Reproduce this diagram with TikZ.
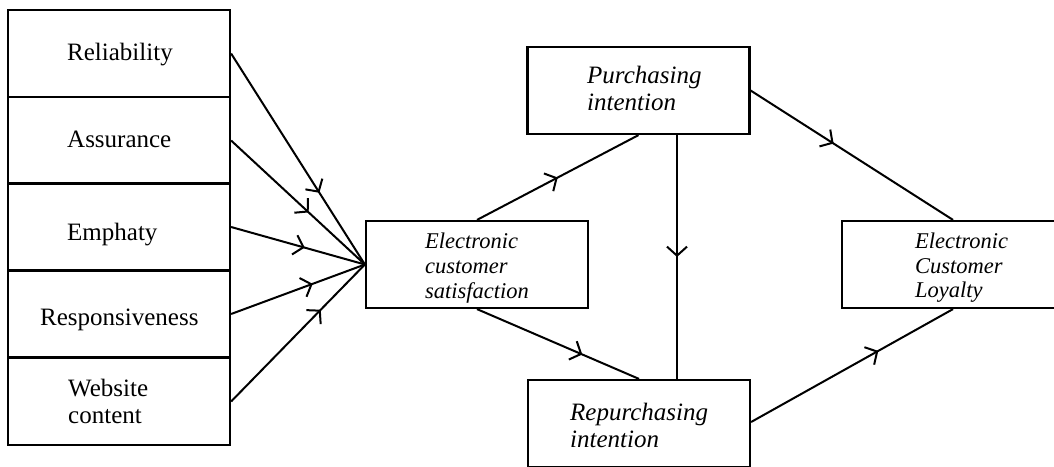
\documentclass[tikz,border=0pt]{standalone}
\usepackage{fontspec}
\setmainfont{Liberation Serif}
\usetikzlibrary{arrows.meta,decorations.markings,calc}
\tikzset{
  box/.style={draw, line width=2.2pt, minimum width=222pt, minimum height=87pt, inner sep=0pt},
  lbl/.style={inner sep=0pt, anchor=base west, font=\fontsize{25}{28}\selectfont},
  ilbl/.style={inner sep=0pt, anchor=base west, font=\fontsize{22.5}{25}\selectfont\itshape},
  bigilbl/.style={ilbl, font=\fontsize{25}{28}\selectfont\itshape},
  conn/.style={line width=2pt, postaction={decorate}, decoration={markings,
     mark=at position #1 with {\arrow{Straight Barb[length=9pt,width=20pt,line width=2pt]}}}}
}
\begin{document}
\begin{tikzpicture}[x=1pt,y=-1pt]
\useasboundingbox (0,0) rectangle (1054,466);
\clip (0,0) rectangle (1054,466);
% left column
\node[box] (rel) at (119,53.5) {};
\node[box] (ass) at (119,140.5) {};
\node[box] (emp) at (119,227) {};
\node[box] (res) at (119,314) {};
\node[box] (web) at (119,401.5) {};
\node[lbl] (trel) at (67,60) {Reliability};
\node[lbl] (tass) at (67,147) {Assurance};
\node[lbl] (temp) at (67,240) {Emphaty};
\node[lbl] (tres) at (40,325) {Responsiveness};
\node[lbl] (tweb1) at (68,396) {Website};
\node[lbl] (tweb2) at (68,423) {content};
% other boxes
\node[box] (ecs) at (477,264.5) {};
\node[box] (pur) at (638.5,90.5) {};
\node[box] (rep) at (639,423.5) {};
\node[box] (ecl) at (953,264.5) {};
\node[ilbl] (tecs1) at (425,248) {Electronic};
\node[ilbl] (tecs2) at (425,273) {customer};
\node[ilbl] (tecs3) at (425,298) {satisfaction};
\node[bigilbl] (tpur1) at (587,83) {Purchasing};
\node[bigilbl] (tpur2) at (587,110) {intention};
\node[bigilbl] (trep1) at (570,420) {Repurchasing};
\node[bigilbl] (trep2) at (570,447) {intention};
\node[ilbl] (tecl1) at (915,248) {Electronic};
\node[ilbl] (tecl2) at (915,273) {Customer};
\node[ilbl] (tecl3) at (915,297) {Loyalty};
% connectors
\draw[conn=0.66] (rel.east) -- (ecs.west);
\draw[conn=0.58] (ass.east) -- (ecs.west);
\draw[conn=0.55] (emp.east) -- (ecs.west);
\draw[conn=0.61] (res.east) -- (ecs.west);
\draw[conn=0.67] (web.east) -- (ecs.west);
\draw[conn=0.5] (ecs.north) -- (pur.south);
\draw[conn=0.65] (ecs.south) -- (rep.north);
\draw[conn=0.5] ($(pur.south)+(38.5,0)$) -- ($(rep.north)+(38,0)$);
\draw[conn=0.41] (pur.east) -- (ecl.north);
\draw[conn=0.63] ($(rep.east)+(0,-1.5)$) -- (ecl.south);
\end{tikzpicture}
\end{document}
